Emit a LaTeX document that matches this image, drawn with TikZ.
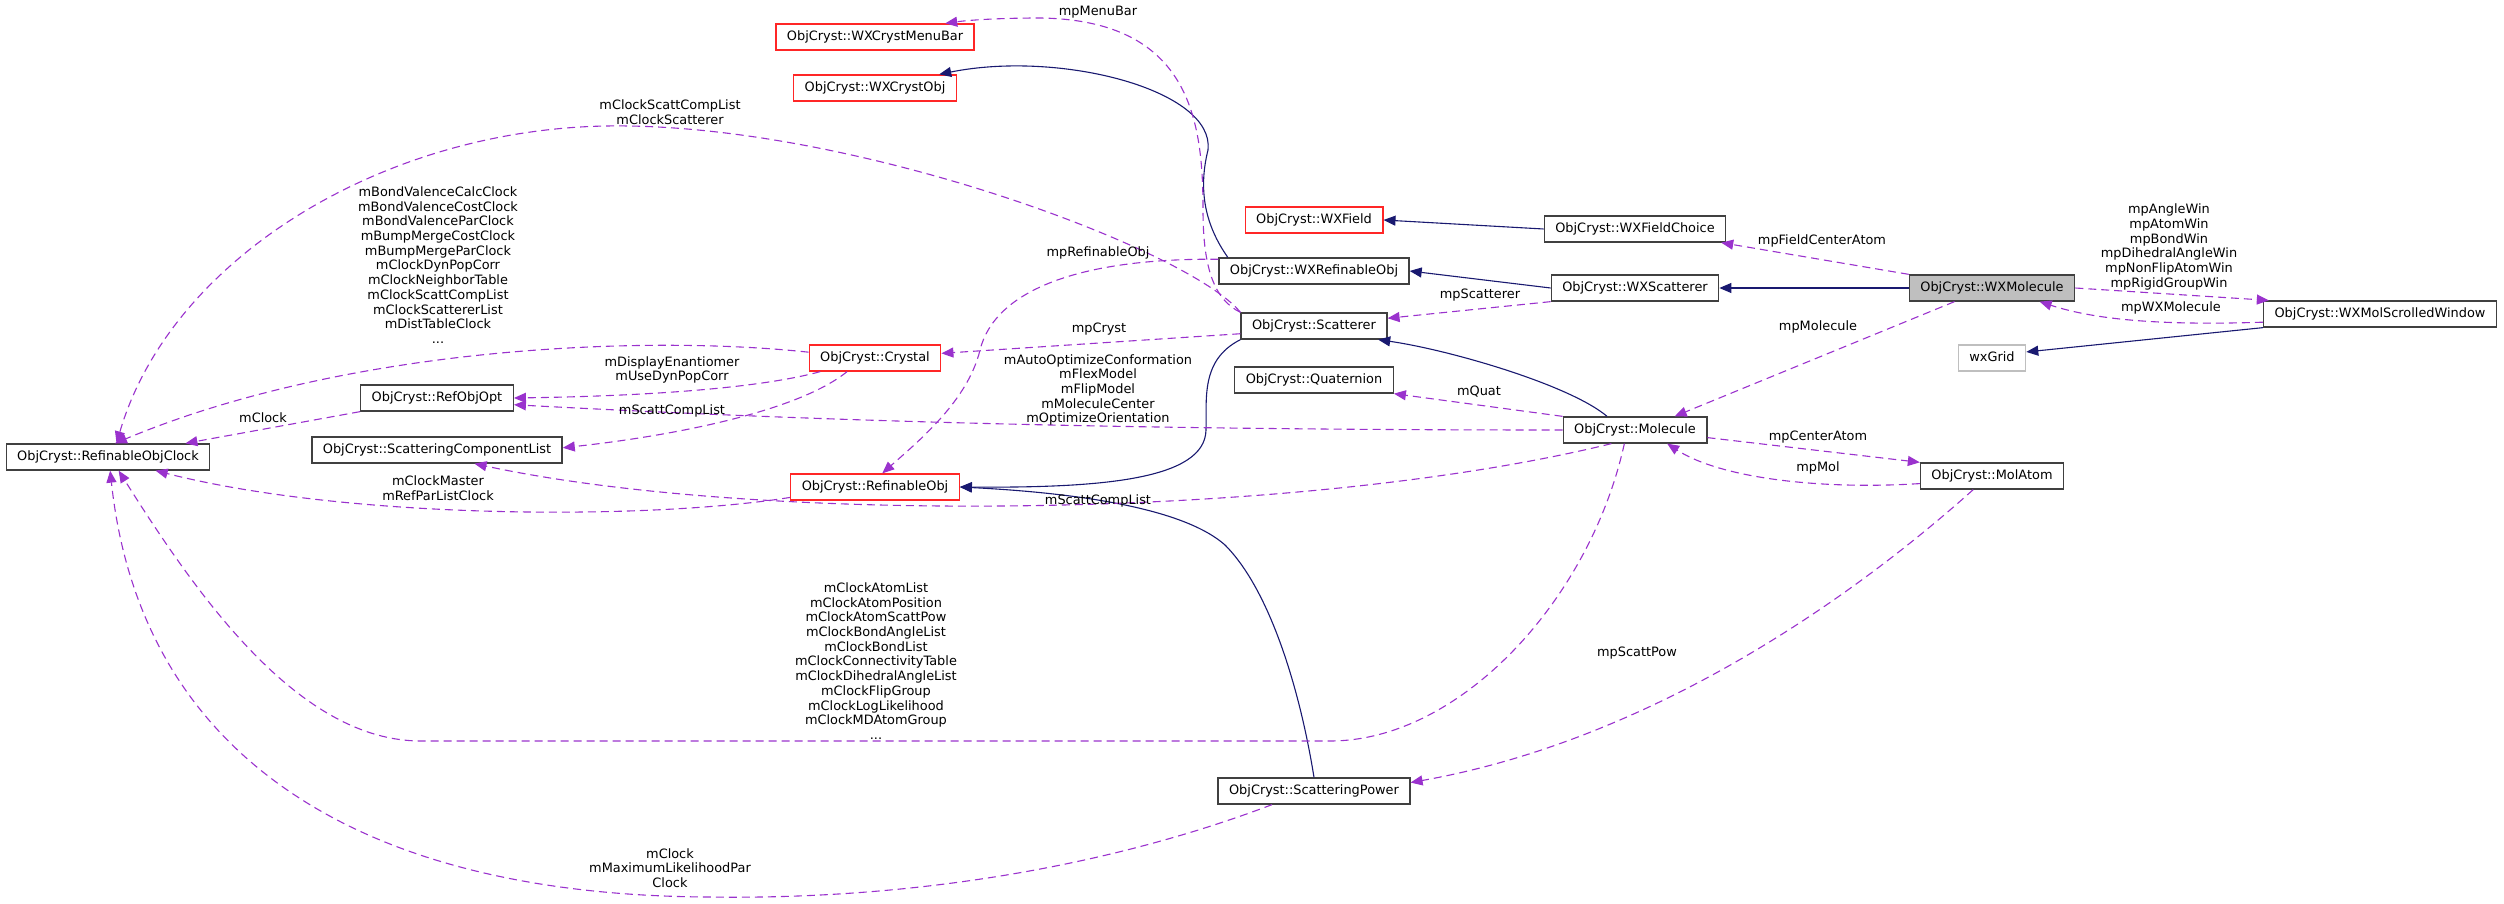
\documentclass[tikz,border=0pt]{standalone}
\usepackage{fontspec}
\setmainfont{DejaVu Sans}
\usepackage{tikz}
\usetikzlibrary{arrows.meta}

\definecolor{inhblue}{HTML}{191970}
\definecolor{usepurple}{HTML}{9A32CD}
\definecolor{boxgray}{HTML}{404040}
\definecolor{focusgray}{HTML}{BFBFBF}
\newcommand{\graphfont}{\fontsize{12.9}{14.7}\selectfont}

\begin{document}
\begin{tikzpicture}[x=1pt,y=-1pt,
	cls/.style={draw=boxgray, line width=1.3pt, fill=white, inner xsep=11pt, inner ysep=0pt,
		minimum height=26pt, text height=10pt, text depth=3pt, font=\graphfont},
	undoc/.style={cls, draw=red!85!white},
	inherit/.style={inhblue, line width=1.1pt, -{Triangle[length=12pt,width=10pt]}},
	uses/.style={usepurple, line width=1.1pt, dash pattern=on 8pt off 5pt, -{Triangle[length=12pt,width=10pt]}},
	member/.style={font=\graphfont, align=center, inner sep=0pt}]
				\useasboundingbox (0,0) rectangle (2504,904);
				
				\node[undoc] (menubar) at (875,37) {ObjCryst::WXCrystMenuBar};
				\node[undoc] (wxcrystobj) at (875,88) {ObjCryst::WXCrystObj};
				\node[undoc] (wxfield) at (1314,220) {ObjCryst::WXField};
				\node[cls] (wxfieldchoice) at (1635,229) {ObjCryst::WXFieldChoice};
				\node[cls] (wxrefobj) at (1314,271) {ObjCryst::WXRefinableObj};
				\node[cls] (wxscatterer) at (1635,288) {ObjCryst::WXScatterer};
				\node[cls, fill=focusgray] (wxmolecule) at (1992,288) {ObjCryst::WXMolecule};
				\node[cls] (wxmolwin) at (2380,314) {ObjCryst::WXMolScrolledWindow};
				\node[cls, draw=focusgray] (wxgrid) at (1992,358) {wxGrid};
				\node[cls] (scatterer) at (1314,326) {ObjCryst::Scatterer};
				\node[cls] (quaternion) at (1314,380) {ObjCryst::Quaternion};
				\node[undoc] (crystal) at (875,358) {ObjCryst::Crystal};
				\node[cls] (molecule) at (1635,430) {ObjCryst::Molecule};
				\node[cls] (molatom) at (1992,476) {ObjCryst::MolAtom};
				\node[cls] (refobjopt) at (437,398) {ObjCryst::RefObjOpt};
				\node[cls] (scattcomp) at (437,450) {ObjCryst::ScatteringComponentList};
				\node[cls] (clock) at (108,457) {ObjCryst::RefinableObjClock};
				\node[undoc] (refobj) at (875,487) {ObjCryst::RefinableObj};
				\node[cls] (scattpow) at (1314,791) {ObjCryst::ScatteringPower};
				
				% inheritance
				\draw[inherit] (wxrefobj.171) .. controls (1205,225) and (1198,190) .. (1208,150)
					.. controls (1215,90) and (1060,50) .. (wxcrystobj.12);
				\draw[inherit] (wxfieldchoice.west) -- (wxfield.east);
				\draw[inherit] (wxscatterer.west) -- (wxrefobj.east);
				\draw[inherit] (wxmolecule.west) -- (wxscatterer.east);
				\draw[inherit] (wxmolwin.south west) -- (wxgrid.10);
				\draw[inherit] (molecule.154) .. controls (1570,385) and (1450,350) .. (scatterer.-12);
				\draw[inherit] (scatterer.south west) .. controls (1200,360) and (1207,400) .. (1206,430)
					.. controls (1205,480) and (1100,488) .. (refobj.east);
				\draw[inherit] (scattpow.north) .. controls (1300,690) and (1270,590) .. (1225,545)
					.. controls (1180,505) and (1060,492) .. (refobj.east);
				
				% members
				\draw[uses] (scatterer.north west) .. controls (1215,300) and (1203,270) .. (1203,210)
					.. controls (1203,120) and (1190,20) .. (1040,18) .. controls (1000,18) and (970,20) .. (menubar.11);
				\draw[uses] (scatterer.north west) .. controls (1190,250) and (850,122) .. (606,126)
					.. controls (380,130) and (170,260) .. (clock.58);
				\draw[uses] (wxmolecule.north west) -- (wxfieldchoice.-9);
				\draw[uses] (wxmolecule.east) -- (wxmolwin.173);
				\draw[uses] (wxmolwin.184) .. controls (2150,326) and (2090,318) .. (wxmolecule.-16);
				\draw[uses] (wxmolecule.-160) -- (molecule.19);
				\draw[uses] (wxscatterer.south west) -- (scatterer.6);
				\draw[uses] (scatterer.186) -- (crystal.4);
				\draw[uses] (molecule.north west) -- (quaternion.south east);
				\draw[uses] (molecule.west) .. controls (1100,430) and (800,420) .. (refobjopt.-5);
				\draw[uses] (crystal.-166) .. controls (760,388) and (650,396) .. (refobjopt.east);
				\draw[uses] (crystal.175) .. controls (650,335) and (350,345) .. (clock.63);
				\draw[uses] (crystal.-154) .. controls (800,410) and (680,435) .. (scattcomp.1);
				\draw[uses] (molecule.-150) .. controls (1300,520) and (760,525) .. (scattcomp.-20);
				\draw[uses] (refobjopt.south west) -- (clock.10);
				\draw[uses] (refobj.187) .. controls (650,520) and (350,520) .. (clock.-16);
				\draw[uses] (wxrefobj.173) .. controls (1080,258) and (995,290) .. (980,350)
					.. controls (968,400) and (920,440) .. (refobj.62);
				\draw[uses] (molecule.-128) .. controls (1590,600) and (1460,741) .. (1330,741) -- (421,741)
					.. controls (300,741) and (200,600) .. (clock.-52);
				\draw[uses] (scattpow.-162) .. controls (1100,870) and (900,900) .. (708,897)
					.. controls (350,895) and (140,750) .. (clock.-81);
				\draw[uses] (molecule.-6) -- (molatom.north west);
				\draw[uses] (molatom.186) .. controls (1820,490) and (1720,478) .. (molecule.-23);
				\draw[uses] (molatom.-144) .. controls (1850,600) and (1650,740) .. (scattpow.5);
				
				\node[member] (lmenubar) at (1098,12) {mpMenuBar};
				\node[member] (lclockscatt) at (670,112) {mClockScattCompList\\mClockScatterer};
				\node[member] (lcrystclock) at (438,265) {mBondValenceCalcClock\\mBondValenceCostClock\\mBondValenceParClock\\mBumpMergeCostClock\\mBumpMergeParClock\\mClockDynPopCorr\\mClockNeighborTable\\mClockScattCompList\\mClockScattererList\\mDistTableClock\\...};
				\node[member] (lrefobj) at (1098,253) {mpRefinableObj};
				\node[member] (lfield) at (1822,241) {mpFieldCenterAtom};
				\node[member] (lwins) at (2169,247) {mpAngleWin\\mpAtomWin\\mpBondWin\\mpDihedralAngleWin\\mpNonFlipAtomWin\\mpRigidGroupWin};
				\node[member] (lscatterer) at (1480,295) {mpScatterer};
				\node[member] (lwxmol) at (2171,308) {mpWXMolecule};
				\node[member] (lcryst) at (1099,329) {mpCryst};
				\node[member] (lmolecule) at (1818,327) {mpMolecule};
				\node[member] (lenantio) at (672,370) {mDisplayEnantiomer\\mUseDynPopCorr};
				\node[member] (lopt) at (1098,390) {mAutoOptimizeConformation\\mFlexModel\\mFlipModel\\mMoleculeCenter\\mOptimizeOrientation};
				\node[member] (lquat) at (1479,392) {mQuat};
				\node[member] (lcomp) at (672,411) {mScattCompList};
				\node[member] (lclock) at (263,418) {mClock};
				\node[member] (lcenter) at (1818,437) {mpCenterAtom};
				\node[member] (lmol) at (1818,468) {mpMol};
				\node[member] (lmaster) at (438,488) {mClockMaster\\mRefParListClock};
				\node[member] (lcompmol) at (1098,501) {mScattCompList};
				\node[member] (lscattpow) at (1637,653) {mpScattPow};
				\node[member] (lmolclock) at (876,661) {mClockAtomList\\mClockAtomPosition\\mClockAtomScattPow\\mClockBondAngleList\\mClockBondList\\mClockConnectivityTable\\mClockDihedralAngleList\\mClockFlipGroup\\mClockLogLikelihood\\mClockMDAtomGroup\\...};
				\node[member] (lpowclock) at (670,868) {mClock\\mMaximumLikelihoodPar\\Clock};
			\end{tikzpicture}
\end{document}
